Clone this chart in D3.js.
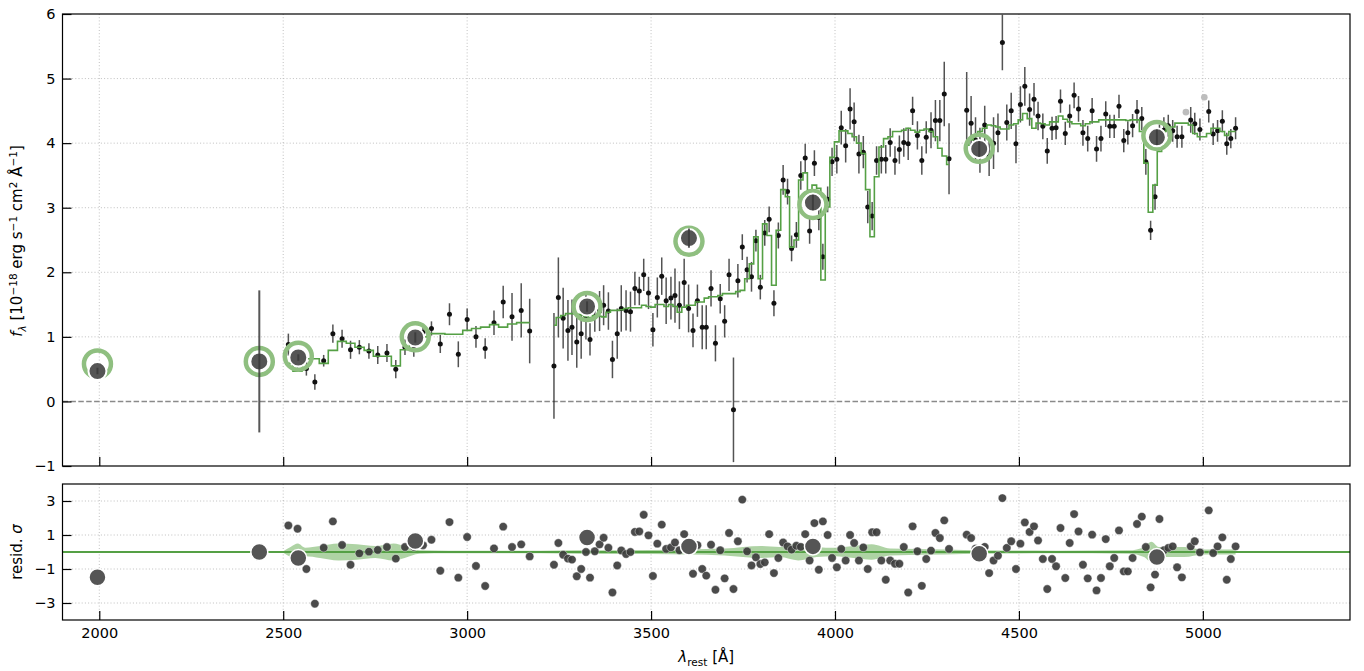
<!DOCTYPE html>
<html>
<head>
<meta charset="utf-8">
<script src="https://cdn.jsdelivr.net/npm/d3@7"></script>
<style>
body { margin: 0; background: #fff; }
svg { display: block; font-family: "DejaVu Sans", sans-serif; }
</style>
</head>
<body>
<svg id="chart" width="1364" height="671"></svg>
<script>
// spectrum bins (rest-frame wavelength, Angstrom)
const specLam = [
  2514,2539,2563,2586,2610,2635,2660,2683,2707,2733,
  2757,2782,2806,2831,2855,2880,2903,2927,2952,2976,
  3000,3024,3049,3073,3098,3122,3147,3170,
  3236,3248,3261,3274,3285,3298,3310,3323,3334,3347,
  3360,3371,3384,3395,3408,3419,3432,3444,3456,3468,
  3480,3493,3505,3517,3529,3541,3554,3565,3577,3590,
  3602,3614,3626,3639,3650,3663,3675,3688,3700,3712,
  3724,3736,3748,3761,3773,3785,3797,3809,3821,3834,
  3846,3859,3871,3882,3895,3907,3919,3931,3944,3956,
  3967,3980,3992,4005,4017,4029,4041,4052,4065,4077,
  4089,4101,4113,4126,4138,4150,4163,4175,4187,4199,
  4211,4224,4236,4248,4261,4273,4285,4297,4310,
  4358,4370,4382,4394,4407,4419,4431,4443,4455,4467,
  4479,4492,4504,4516,4529,4541,4552,4565,4577,4590,
  4601,4613,4626,4638,4650,4662,4674,4687,4699,4711,
  4723,4736,4747,4759,4772,4785,4796,4809,4821,4834,
  4845,4858,4870,4882,4894,4906,4918,4930,4943,4967,
  4978,4992,5016,5028,5040,5053,5065,5076,5089
];
const specFlux = [
  0.88,0.62,0.51,0.30,0.63,1.05,0.97,0.80,0.84,0.78,
  0.72,0.75,0.50,0.84,0.81,1.07,1.13,0.89,1.35,0.73,
  1.27,1.00,0.82,1.22,1.54,1.31,1.41,1.09,
  0.55,1.61,1.29,1.10,1.15,0.92,1.05,1.31,0.96,1.31,
  1.40,1.49,1.40,0.65,1.05,1.44,1.41,1.39,1.75,1.71,
  1.96,1.68,1.11,1.61,1.94,1.56,1.60,1.64,1.49,1.84,
  1.44,1.10,1.56,1.15,1.15,1.75,0.90,1.59,1.24,1.96,
  -0.13,1.87,2.39,2.04,1.93,2.49,1.77,2.61,2.82,1.52,
  2.57,3.43,3.25,2.37,2.58,3.50,3.77,2.64,3.69,2.85,
  2.24,3.13,3.71,3.75,4.24,3.96,4.53,4.33,3.83,3.86,
  3.01,2.87,3.73,3.75,3.75,4.01,3.73,3.90,4.01,3.99,
  4.50,4.12,3.73,4.09,4.20,4.35,4.35,4.76,3.76,
  4.51,4.31,4.05,3.89,4.28,3.79,4.00,4.16,5.56,4.32,
  4.50,3.99,4.60,4.88,4.52,4.68,4.42,4.26,3.88,4.23,
  4.24,4.65,4.15,4.42,4.74,4.53,4.16,4.07,4.50,3.91,
  4.07,4.45,4.26,4.26,4.57,4.04,4.16,4.27,4.49,4.38,
  3.71,2.65,3.17,4.09,4.20,4.27,4.19,4.10,4.10,4.36,
  4.30,4.21,4.49,4.14,4.19,4.34,3.99,4.07,4.23
];
const specErr = [
  0.17,0.11,0.11,0.12,0.09,0.14,0.14,0.14,0.11,0.12,
  0.14,0.14,0.14,0.12,0.12,0.12,0.11,0.14,0.17,0.20,
  0.17,0.17,0.16,0.19,0.25,0.37,0.42,0.50,
  0.82,0.62,0.47,0.47,0.43,0.40,0.39,0.35,0.25,0.23,
  0.31,0.31,0.29,0.29,0.39,0.36,0.31,0.31,0.26,0.22,
  0.25,0.25,0.26,0.31,0.29,0.36,0.33,0.42,0.37,0.37,
  0.37,0.26,0.25,0.34,0.34,0.28,0.28,0.23,0.25,0.25,
  0.81,0.26,0.20,0.20,0.23,0.17,0.19,0.20,0.20,0.20,
  0.20,0.23,0.20,0.20,0.20,0.22,0.22,0.20,0.20,0.20,
  0.20,0.20,0.22,0.22,0.26,0.26,0.32,0.30,0.30,0.25,
  0.25,0.22,0.22,0.22,0.22,0.22,0.22,0.22,0.22,0.25,
  0.22,0.22,0.22,0.25,0.28,0.32,0.32,0.50,0.55,
  0.59,0.42,0.35,0.35,0.30,0.30,0.40,0.30,0.43,0.28,
  0.28,0.30,0.28,0.30,0.25,0.25,0.22,0.20,0.20,0.18,
  0.18,0.18,0.18,0.18,0.20,0.20,0.20,0.20,0.20,0.20,
  0.20,0.20,0.18,0.18,0.18,0.18,0.18,0.18,0.18,0.18,
  0.20,0.15,0.20,0.20,0.20,0.17,0.17,0.17,0.17,0.20,
  0.17,0.17,0.17,0.17,0.17,0.17,0.17,0.15,0.17
];
const specModel = [
  0.59,0.47,0.66,0.66,0.59,0.79,0.93,0.90,0.84,0.79,
  0.70,0.70,0.55,0.80,0.98,1.00,1.05,1.05,1.04,1.04,
  1.10,1.13,1.15,1.19,1.15,1.20,1.22,1.22,
  1.18,1.30,1.33,1.36,1.36,1.35,1.34,1.32,1.30,1.33,
  1.32,1.31,1.38,1.41,1.41,1.42,1.44,1.45,1.45,1.45,
  1.49,1.47,1.46,1.50,1.50,1.47,1.50,1.47,1.38,1.46,
  1.49,1.49,1.54,1.54,1.60,1.62,1.62,1.64,1.67,1.67,
  1.67,1.70,1.72,1.90,2.13,2.55,1.90,2.75,2.57,1.80,
  2.65,3.28,3.17,2.39,2.50,3.43,3.54,3.27,3.35,3.30,
  1.88,3.01,3.78,4.02,4.19,4.19,4.15,4.10,4.00,3.84,
  3.28,2.55,3.48,3.94,4.07,4.10,4.18,4.18,4.20,4.23,
  4.20,4.17,4.20,4.22,4.18,4.10,3.92,3.80,3.67,
  3.97,4.05,4.12,4.18,4.23,4.28,4.27,4.25,4.22,4.22,
  4.28,4.30,4.36,4.46,4.38,4.23,4.31,4.30,4.28,4.33,
  4.33,4.42,4.37,4.33,4.30,4.30,4.27,4.30,4.33,4.33,
  4.36,4.36,4.36,4.36,4.36,4.36,4.35,4.36,4.36,4.18,
  3.69,2.93,3.35,3.87,4.18,4.25,4.25,4.31,4.31,4.28,
  4.15,4.10,4.15,4.23,4.23,4.18,4.12,4.18,4.18
];
const specResid = [
  1.56,1.37,-1.00,-3.04,0.25,1.80,0.41,-0.75,-0.08,0.02,
  0.12,0.29,-0.39,0.29,0.30,0.40,0.72,-1.10,1.76,-1.51,
  0.88,-0.82,-2.00,0.21,1.49,0.29,0.45,-0.26,
  -0.75,0.53,-0.16,-0.39,-0.45,-1.43,-1.00,0.00,-1.51,0.04,
  0.45,0.84,0.25,-2.38,-0.79,0.09,-0.12,0.00,1.18,1.21,
  2.19,0.98,-1.41,0.49,1.61,0.18,0.27,0.56,0.10,1.05,
  0.20,-1.28,0.40,-1.00,-1.39,0.43,-2.22,0.10,-1.55,1.12,
  -2.18,0.63,3.08,0.04,-0.79,-0.31,-0.71,-0.61,1.05,-1.24,
  -0.35,0.56,0.33,0.14,0.37,0.30,1.05,-0.50,1.70,-1.04,
  1.80,1.00,-0.35,-0.90,0.18,-0.50,1.00,0.53,-0.50,0.27,
  -1.00,1.16,1.16,-0.50,-1.63,-0.50,-0.69,-0.69,0.29,-2.38,
  1.51,0.04,-1.99,-0.41,0.08,1.12,0.82,1.86,0.18,
  1.02,0.82,0.20,-0.30,0.30,-1.24,-0.50,-0.22,3.17,0.24,
  0.63,-1.00,0.49,1.74,1.18,1.51,0.68,-0.41,-2.18,-0.41,
  -0.84,1.41,-1.53,0.53,2.23,1.21,-0.75,-1.55,1.02,-2.26,
  -1.53,0.76,-0.84,-0.35,1.27,-1.14,-1.14,-0.35,1.65,2.08,
  0.29,-2.08,-1.33,1.94,0.10,0.24,0.33,-0.90,-1.49,0.33,
  0.63,-0.02,2.45,-0.06,0.33,0.86,-1.63,-0.41,0.33
];

// masked spectrum bins (grey)
const maskedLam = [4954, 5004];
const maskedFlux = [4.48, 4.71];
const maskedModel = [4.31, 4.10];

// photometry
const photLam = [1995, 2435, 2541, 2859, 3326, 3603, 3940, 4392, 4875];
const photFlux = [0.47, 0.62, 0.68, 0.99, 1.47, 2.53, 3.08, 3.91, 4.09];
const photErr = [0.05, 1.10, 0.05, 0.08, 0.08, 0.15, 0.12, 0.12, 0.12];
const photModel = [0.58, 0.62, 0.70, 1.00, 1.47, 2.48, 3.05, 3.92, 4.12];
const photResid = [-1.49, 0.00, -0.35, 0.65, 0.85, 0.33, 0.33, -0.10, -0.30];

// model scatter band in the residual panel (half width, sigma)
const bandLam = [2500,2520,2540,2560,2600,2650,2700,2750,2800,2830,
  2870,2950,3200,3300,3500,3600,3700,3800,3850,3900,
  3950,4000,4050,4100,4150,4300,4400,4600,4800,4840,
  4860,4880,4950,5000,5089];
const bandHalf = [0.05,0.30,0.50,0.25,0.35,0.50,0.45,0.35,0.50,0.35,
  0.10,0.08,0.08,0.10,0.12,0.15,0.20,0.35,0.30,0.50,
  0.30,0.25,0.35,0.45,0.20,0.15,0.10,0.08,0.10,0.30,
  0.60,0.30,0.30,0.15,0.15];

const xTicks = [2000, 2500, 3000, 3500, 4000, 4500, 5000];
const yTopTicks = [-1, 0, 1, 2, 3, 4, 5, 6];
const yBotTicks = [-3, -1, 1, 3];

const green = "#55a045";
const ringGreen = "#8fbf80";

const svg = d3.select("#chart");
const L = 62.5, R = 1350;
const top1 = 14, bot1 = 466, top2 = 484, bot2 = 620;

const x = d3.scaleLinear().domain([1900, 5400]).range([L, R]);
const yTop = d3.scaleLinear().domain([-1, 6]).range([bot1, top1]);
const yBot = d3.scaleLinear().domain([-4, 4]).range([bot2, top2]);

const defs = svg.append("defs");
defs.append("clipPath").attr("id", "clipTop").append("rect")
  .attr("x", L).attr("y", top1).attr("width", R - L).attr("height", bot1 - top1);
defs.append("clipPath").attr("id", "clipBot").append("rect")
  .attr("x", L).attr("y", top2).attr("width", R - L).attr("height", bot2 - top2);

// grids
function grid(y, yt, y0, y1) {
  const g = svg.append("g").attr("stroke", "#b0b0b0").attr("stroke-width", 0.8)
    .attr("stroke-dasharray", "1,2.2");
  g.selectAll(".gx").data(xTicks).enter().append("line")
    .attr("x1", d => x(d)).attr("x2", d => x(d)).attr("y1", y0).attr("y2", y1);
  g.selectAll(".gy").data(yt).enter().append("line")
    .attr("x1", L).attr("x2", R).attr("y1", d => y(d)).attr("y2", d => y(d));
}
grid(yTop, [1, 2, 3, 4, 5], top1, bot1);
grid(yBot, yBotTicks, top2, bot2);

// ---- top panel
const gt = svg.append("g").attr("clip-path", "url(#clipTop)");

gt.append("line")
  .attr("x1", L).attr("x2", R).attr("y1", yTop(0)).attr("y2", yTop(0))
  .attr("stroke", "#8a8a8a").attr("stroke-width", 1.5).attr("stroke-dasharray", "5.5,2.4");

const spec = specLam.map((l, i) => ({l, f: specFlux[i], e: specErr[i], m: specModel[i], r: specResid[i]}));

gt.append("g").selectAll("line").data(spec).enter().append("line")
  .attr("x1", d => x(d.l)).attr("x2", d => x(d.l))
  .attr("y1", d => yTop(d.f - d.e)).attr("y2", d => yTop(d.f + d.e))
  .attr("stroke", "#1a1a1a").attr("stroke-opacity", 0.75).attr("stroke-width", 1.5);

gt.append("g").selectAll("circle").data(spec).enter().append("circle")
  .attr("cx", d => x(d.l)).attr("cy", d => yTop(d.f)).attr("r", 2.5)
  .attr("fill", "#111");

gt.append("g").selectAll("circle").data(maskedLam).enter().append("circle")
  .attr("cx", d => x(d)).attr("cy", (d, i) => yTop(maskedFlux[i])).attr("r", 3.3)
  .attr("fill", "#bdbdbd");

// model: step line, broken where bins are missing
const modelPts = spec.map(d => ({l: d.l, m: d.m}))
  .concat(maskedLam.map((l, i) => ({l, m: maskedModel[i]})))
  .sort((a, b) => a.l - b.l);
const segs = [];
modelPts.forEach((p, i) => {
  if (i === 0 || p.l - modelPts[i - 1].l > 40) segs.push([]);
  segs[segs.length - 1].push(p);
});
const stepLine = d3.line().x(d => x(d.l)).y(d => yTop(d.m)).curve(d3.curveStep);
gt.append("g").selectAll("path").data(segs).enter().append("path")
  .attr("d", stepLine).attr("fill", "none")
  .attr("stroke", green).attr("stroke-width", 1.6);

// photometry
const phot = photLam.map((l, i) => ({l, f: photFlux[i], e: photErr[i], m: photModel[i], r: photResid[i]}));
gt.append("g").selectAll("circle").data(phot).enter().append("circle")
  .attr("cx", d => x(d.l)).attr("cy", d => yTop(d.m)).attr("r", 13.5)
  .attr("fill", "none").attr("stroke", ringGreen).attr("stroke-width", 4.5);
gt.append("g").selectAll("circle").data(phot).enter().append("circle")
  .attr("cx", d => x(d.l)).attr("cy", d => yTop(d.f)).attr("r", 9)
  .attr("fill", "#555").attr("stroke", "#fff").attr("stroke-width", 2);
gt.append("g").selectAll("line").data(phot).enter().append("line")
  .attr("x1", d => x(d.l)).attr("x2", d => x(d.l))
  .attr("y1", d => yTop(d.f - d.e)).attr("y2", d => yTop(d.f + d.e))
  .attr("stroke", "#3a3a3a").attr("stroke-opacity", 0.85).attr("stroke-width", 2);

// ---- residual panel
const gb = svg.append("g").attr("clip-path", "url(#clipBot)");
const band = bandLam.map((l, i) => ({l, h: bandHalf[i]}));
gb.append("path").datum(band)
  .attr("d", d3.area().x(d => x(d.l)).y0(d => yBot(-d.h)).y1(d => yBot(d.h)).curve(d3.curveMonotoneX))
  .attr("fill", "#8cc07d").attr("fill-opacity", 0.7);
gb.append("line")
  .attr("x1", L).attr("x2", R).attr("y1", yBot(0)).attr("y2", yBot(0))
  .attr("stroke", green).attr("stroke-width", 1.8);
gb.append("g").selectAll("circle").data(spec).enter().append("circle")
  .attr("cx", d => x(d.l)).attr("cy", d => yBot(d.r)).attr("r", 4.2)
  .attr("fill", "#3c3c3c").attr("fill-opacity", 0.92)
  .attr("stroke", "#fff").attr("stroke-width", 0.4);
gb.append("g").selectAll("circle").data(phot).enter().append("circle")
  .attr("cx", d => x(d.l)).attr("cy", d => yBot(d.r)).attr("r", 8.5)
  .attr("fill", "#555").attr("stroke", "#fff").attr("stroke-width", 1.5);

// ---- axes
function styleAxis(g) {
  g.select(".domain").remove();
  g.selectAll(".tick line").attr("stroke", "#000").attr("stroke-width", 1.2);
  g.selectAll(".tick text").attr("fill", "#000").style("font-size", "14.5px")
    .style("font-family", "'DejaVu Sans', sans-serif");
}
svg.append("g").attr("transform", `translate(${L},0)`)
  .call(d3.axisLeft(yTop).tickValues(yTopTicks).tickSize(-9).tickPadding(7).tickFormat(d3.format("d")))
  .call(styleAxis);
svg.append("g").attr("transform", `translate(0,${bot1})`)
  .call(d3.axisBottom(x).tickValues(xTicks).tickSize(-9).tickFormat(""))
  .call(styleAxis);
svg.append("g").attr("transform", `translate(${L},0)`)
  .call(d3.axisLeft(yBot).tickValues(yBotTicks).tickSize(-9).tickPadding(7).tickFormat(d3.format("d")))
  .call(styleAxis);
svg.append("g").attr("transform", `translate(0,${bot2})`)
  .call(d3.axisBottom(x).tickValues(xTicks).tickSize(-9).tickPadding(8).tickFormat(d3.format("d")))
  .call(styleAxis);

// frames
[[top1, bot1], [top2, bot2]].forEach(([a, b]) => {
  svg.append("rect").attr("x", L).attr("y", a).attr("width", R - L).attr("height", b - a)
    .attr("fill", "none").attr("stroke", "#000").attr("stroke-width", 1.2);
});

// ---- labels
function rich(t, parts) {
  let shift = 0;
  parts.forEach(([s, kind]) => {
    const ts = t.append("tspan").text(s);
    let target = 0;
    if (kind === "sup") target = -5.5;
    if (kind === "sub" || kind === "subi") target = 4;
    ts.attr("dy", target - shift);
    shift = target;
    if (kind === "sup" || kind === "sub" || kind === "subi") ts.style("font-size", "10.5px");
    if (kind === "i" || kind === "subi") ts.style("font-style", "italic");
  });
}
const yl = svg.append("text").attr("transform", "translate(22,241) rotate(-90)")
  .attr("text-anchor", "middle").style("font-size", "15px");
rich(yl, [["f", "i"], ["λ", "subi"], [" [10", ""], ["−18", "sup"], [" erg s", ""], ["−1", "sup"],
  [" cm", ""], ["2", "sup"], [" Å", ""], ["−1", "sup"], ["]", ""]]);

const rl = svg.append("text").attr("transform", `translate(22,${yBot(0)}) rotate(-90)`)
  .attr("text-anchor", "middle").style("font-size", "15px");
rich(rl, [["resid. ", ""], ["σ", "i"]]);

const xl = svg.append("text").attr("x", (L + R) / 2).attr("y", 662)
  .attr("text-anchor", "middle").style("font-size", "15px");
rich(xl, [["λ", "i"], ["rest", "sub"], [" [Å]", ""]]);
</script>
</body>
</html>
